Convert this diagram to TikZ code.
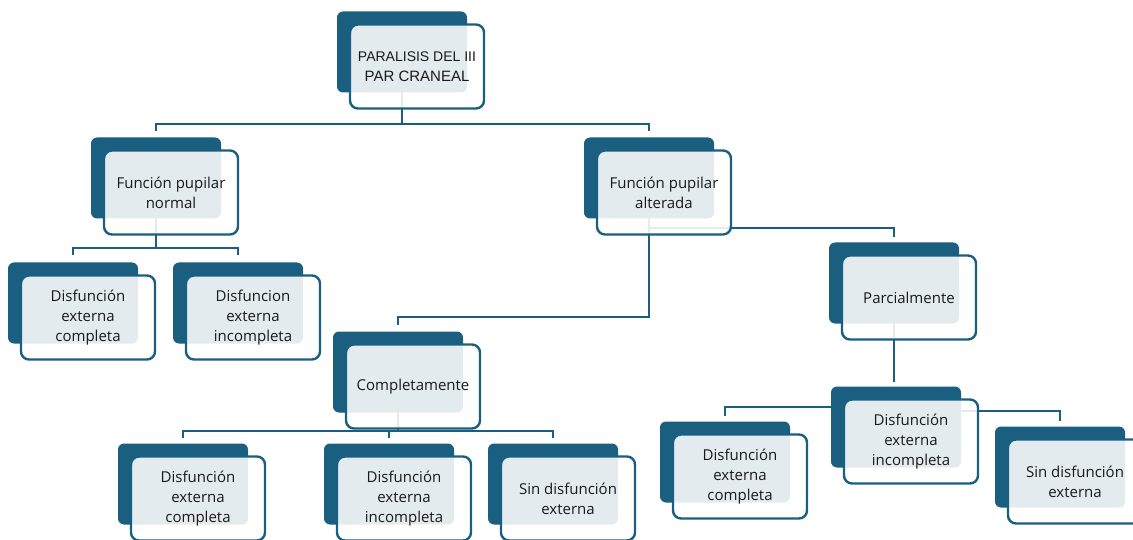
\documentclass[tikz,border=0pt]{standalone}
\usepackage{fontspec}
\setmainfont{Open Sans}
\newfontfamily\titlefont{Liberation Sans}
\usepackage{tikz}
\usetikzlibrary{backgrounds}
\definecolor{boxblue}{HTML}{1A5E80}
\definecolor{txtgray}{HTML}{1A1A1A}

\begin{document}
\begin{tikzpicture}[x=1pt,y=-1pt,
  backbox/.style={fill=boxblue,rounded corners=6pt,minimum width=130pt,
    minimum height=81pt,inner sep=0pt},
  frontbox/.style={draw=boxblue,line width=2.4pt,fill=white,fill opacity=0.88,
    text opacity=1,rounded corners=8pt,minimum width=134pt,minimum height=84pt,
    inner sep=2pt,align=center,text=txtgray,font=\fontsize{15}{20}\selectfont},
  conn/.style={draw=boxblue,line width=2.6pt}]
  \useasboundingbox (0,0) rectangle (1133,540);
  \clip (0,0) rectangle (1133,540);
  % back plates
  \node[backbox] (rootB) at (402,52) {};
  \node[backbox] (normalB) at (156,178) {};
  \node[backbox] (alteradaB) at (649,178) {};
  \node[backbox] (parcialB) at (894,283) {};
  \node[backbox] (decAB) at (73,303) {};
  \node[backbox] (deiAB) at (238,303) {};
  \node[backbox] (completoB) at (398,372) {};
  \node[backbox] (decBB) at (183,484) {};
  \node[backbox] (deiBB) at (389,484) {};
  \node[backbox] (sdeBB) at (553,484) {};
  \node[backbox] (decCB) at (725,462) {};
  \node[backbox] (deiCB) at (896,427) {};
  \node[backbox] (sdeCB) at (1060,467) {};
  % front boxes with text
  \node[frontbox] (root) at (417,66.5) {\fontsize{14}{20}\titlefont PARALISIS DEL III\\\titlefont PAR CRANEAL};
  \node[frontbox] (normal) at (171,192.5) {Función pupilar\\normal};
  \node[frontbox] (alterada) at (664,192.5) {Función pupilar\\alterada};
  \node[frontbox] (parcial) at (909,297.5) {Parcialmente};
  \node[frontbox] (decA) at (88,317.5) {Disfunción\\externa\\completa};
  \node[frontbox] (deiA) at (253,317.5) {Disfuncion\\externa\\incompleta};
  \node[frontbox] (completo) at (413,386.5) {Completamente};
  \node[frontbox] (decB) at (198,498.5) {Disfunción\\externa\\completa};
  \node[frontbox] (deiB) at (404,498.5) {Disfunción\\externa\\incompleta};
  \node[frontbox] (sdeB) at (568,498.5) {Sin disfunción\\externa};
  \node[frontbox] (decC) at (740,476.5) {Disfunción\\externa\\completa};
  \node[frontbox] (deiC) at (911,441.5) {Disfunción\\externa\\incompleta};
  \node[frontbox] (sdeC) at (1075,481.5) {Sin disfunción\\externa};
  % connectors, behind the boxes
  \begin{pgfonlayer}{background}
    \draw[conn] (rootB.center) -- ++(0,72) -| ([yshift=6pt]normalB.north);
    \draw[conn] (rootB.center) -- ++(0,72) -| ([yshift=6pt]alteradaB.north);
    \draw[conn] (normalB.center) -- ++(0,70) -| ([yshift=7pt]decAB.north);
    \draw[conn] (normalB.center) -- ++(0,70) -| ([yshift=7pt]deiAB.north);
    \draw[conn] (alteradaB.center) -- ++(0,139) -| ([yshift=6pt]completoB.north);
    \draw[conn] (alteradaB.center) -- ++(0,50) -| ([yshift=5pt]parcialB.north);
    \draw[conn] (parcialB.center) -- ([yshift=4pt]parcialB.center |- deiCB.north);
    \draw[conn] ([yshift=20pt]deiCB.center) -| ([yshift=5pt]decCB.north);
    \draw[conn] ([yshift=16pt]deiCB.center) -| ([yshift=5pt]sdeCB.north);
    \draw[conn] (completoB.center) -- ++(0,59) -| ([yshift=5pt]decBB.north);
    \draw[conn] (completoB.center) -- ++(0,59) -| ([yshift=5pt]deiBB.north);
    \draw[conn] (completoB.center) -- ++(0,59) -| ([yshift=5pt]sdeBB.north);
  \end{pgfonlayer}
\end{tikzpicture}
\end{document}
